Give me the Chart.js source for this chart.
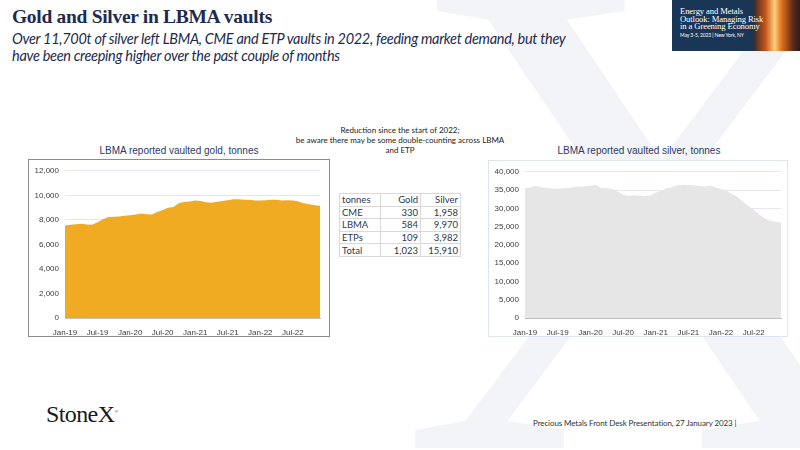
<!DOCTYPE html>
<html>
<head>
<meta charset="utf-8">
<script src="https://cdn.jsdelivr.net/npm/chart.js@4"></script>
<style>
  body { margin: 0; width: 800px; height: 450px; overflow: hidden; background: #fff; font-family: Lato, sans-serif; }
  .abs { position: absolute; }
  #wm { left: 400px; top: -134px; font: 695px "Liberation Serif", serif; color: #f3f4f7; line-height: 1; }
  #title { left: 12px; top: 6px; font: bold 19.5px "Liberation Serif", serif; color: #1d2b4f; letter-spacing: -0.3px; }
  #sub { left: 12px; top: 30px; font: italic 14.5px Lato, sans-serif; color: #1d2b4f; line-height: 17px; letter-spacing: -0.3px; }
  #banner { left: 672px; top: 0; width: 128px; height: 51px; background: #1a3656; overflow: hidden; }
  #banner .fire { position: absolute; left: 82px; top: 0; width: 46px; height: 51px;
    background: linear-gradient(90deg, #3a2a28 0, #c8541a 25%, #ffcf7a 45%, #e0701e 60%, #5a2a18 85%, #2a1c1a 100%); }
  #banner .txt { position: absolute; left: 8px; top: 8px; font: 8.6px "Liberation Serif", serif; color: #fff; line-height: 7.6px; letter-spacing: -0.1px; }
  #banner .date { font: 5px Lato, sans-serif; }
  .ctitle { font: 10px "Liberation Sans", Arial, sans-serif; color: #2b3a64; text-align: center; width: 302px; }
  .box { box-sizing: border-box; background: #fff; }
  #gbox { left: 28px; top: 159px; width: 302px; height: 178px; border: 1px solid #8c8c8c; }
  #sbox { left: 488px; top: 160px; width: 300px; height: 177px; border: 1px solid #dfe5ef; }
  #note { left: 290px; top: 125px; width: 220px; font: 8px Lato, sans-serif; color: #222; text-align: center; line-height: 10px; }
  table { border-collapse: collapse; font: 9.5px Lato, sans-serif; color: #2e3850; background: #fff; }
  td { border: 1px solid #d9d9d9; height: 11.6px; padding: 0 2px; }
  td.n { text-align: right; }
  #logo { left: 46px; top: 401px; font: 24px "Liberation Serif", serif; color: #1a1a1a; letter-spacing: -0.6px; }
  #logo sup { font-size: 5px; }
  #foot { left: 533px; top: 418px; font: 8px Lato, sans-serif; color: #333; letter-spacing: -0.1px; }
</style>
</head>
<body>
<div class="abs" id="wm">X</div>
<div class="abs" id="title">Gold and Silver in LBMA vaults</div>
<div class="abs" id="sub">Over 11,700t of silver left LBMA, CME and ETP vaults in 2022, feeding market demand, but they<br>have been creeping higher over the past couple of months</div>
<div class="abs" id="banner"><div class="fire"></div><div class="txt">Energy and Metals<br>Outlook: Managing Risk<br>in a Greening Economy<br><span class="date">May 3-5, 2023 | New York, NY</span></div></div>

<div class="abs ctitle" style="left:28px; top:145px;">LBMA reported vaulted gold, tonnes</div>
<div class="abs box" id="gbox"><canvas id="gold"></canvas></div>

<div class="abs ctitle" style="left:488px; top:145px;">LBMA reported vaulted silver, tonnes</div>
<div class="abs box" id="sbox"><canvas id="silver"></canvas></div>

<div class="abs" id="note">Reduction since the start of 2022;<br>be aware there may be some double-counting across LBMA<br>and ETP</div>
<div class="abs" style="left:339px; top:193px;">
  <table id="tbl">
    <colgroup><col style="width:41px"><col style="width:40px"><col style="width:40px"></colgroup>
  </table>
</div>

<div class="abs" id="logo">StoneX<sup>®</sup></div>
<div class="abs" id="foot">Precious Metals Front Desk Presentation, 27 January 2023 |</div>

<script>
const months = [
  'Jan-19','Feb-19','Mar-19','Apr-19','May-19','Jun-19','Jul-19','Aug-19','Sep-19','Oct-19','Nov-19','Dec-19',
  'Jan-20','Feb-20','Mar-20','Apr-20','May-20','Jun-20','Jul-20','Aug-20','Sep-20','Oct-20','Nov-20','Dec-20',
  'Jan-21','Feb-21','Mar-21','Apr-21','May-21','Jun-21','Jul-21','Aug-21','Sep-21','Oct-21','Nov-21','Dec-21',
  'Jan-22','Feb-22','Mar-22','Apr-22','May-22','Jun-22','Jul-22','Aug-22','Sep-22','Oct-22','Nov-22','Dec-22'
];

const gold_tonnes = [
  7550, 7600, 7650, 7680, 7620, 7600, 7800, 8050, 8230, 8250, 8280, 8330,
  8380, 8430, 8510, 8460, 8440, 8650, 8800, 8980, 9050, 9370, 9450, 9500,
  9580, 9530, 9430, 9400, 9480, 9530, 9600, 9690, 9680, 9640, 9630, 9580,
  9580, 9600, 9650, 9630, 9580, 9590, 9570, 9500, 9350, 9280, 9200, 9150
];

const silver_tonnes = [
  35500, 35800, 36100, 35800, 35600, 35400, 35350, 35500, 35550, 35850, 35950, 36000,
  36150, 36400, 35600, 35500, 35300, 34600, 33800, 33400, 33550, 33450, 33400, 33500,
  34300, 34900, 35500, 35800, 36300, 36450, 36400, 36350, 36100, 35900, 36250, 35700,
  35300, 34800, 33900, 33200, 31800, 30700, 29600, 28400, 27200, 26600, 26300, 26100
];

// reduction table
const tbl_header = ['tonnes', 'Gold', 'Silver'];
const tbl_rows = ['CME', 'LBMA', 'ETPs', 'Total'];
const tbl_gold = ['330', '584', '109', '1,023'];
const tbl_silver = ['1,958', '9,970', '3,982', '15,910'];

let tbl = document.getElementById('tbl');
let hr = tbl.insertRow();
tbl_header.forEach((h, i) => { let c = hr.insertCell(); c.textContent = h; if (i) c.className = 'n'; });
tbl_rows.forEach((r, i) => {
  let row = tbl.insertRow();
  row.insertCell().textContent = r;
  let g = row.insertCell(); g.textContent = tbl_gold[i]; g.className = 'n';
  let s = row.insertCell(); s.textContent = tbl_silver[i]; s.className = 'n';
});

Chart.defaults.font.family = '"Liberation Sans", Arial, sans-serif';
Chart.defaults.font.size = 8;
Chart.defaults.color = '#404040';
Chart.defaults.animation = false;

function makeChart(id, data, colour, max, step, pad) {
  new Chart(document.getElementById(id), {
    type: 'line',
    data: {
      labels: months,
      datasets: [{
        data: data,
        fill: 'origin',
        backgroundColor: colour,
        borderWidth: 0,
        pointRadius: 0,
        tension: 0
      }]
    },
    options: {
      responsive: true,
      maintainAspectRatio: false,
      layout: { padding: pad },
      plugins: { legend: { display: false }, tooltip: { enabled: false } },
      scales: {
        x: {
          grid: { display: false },
          border: { display: true, color: '#bfbfbf' },
          ticks: {
            autoSkip: false,
            maxRotation: 0,
            padding: 2,
            callback: (v, i) => (i % 6 === 0 ? months[i] : '')
          },
          afterFit: s => { s.height = 18; }
        },
        y: {
          min: 0,
          max: max,
          grid: { color: '#e4e7f1', drawTicks: false },
          border: { display: false },
          ticks: { stepSize: step, padding: 6 },
          afterFit: s => { s.width = 36; }
        }
      }
    }
  });
}

makeChart('gold', gold_tonnes, '#f0ab22', 12000, 2000, { left: 0, right: 9, top: 8, bottom: 0 });
makeChart('silver', silver_tonnes, '#e6e6e6', 40000, 5000, { left: 0, right: 6, top: 8, bottom: 0 });
</script>
</body>
</html>
